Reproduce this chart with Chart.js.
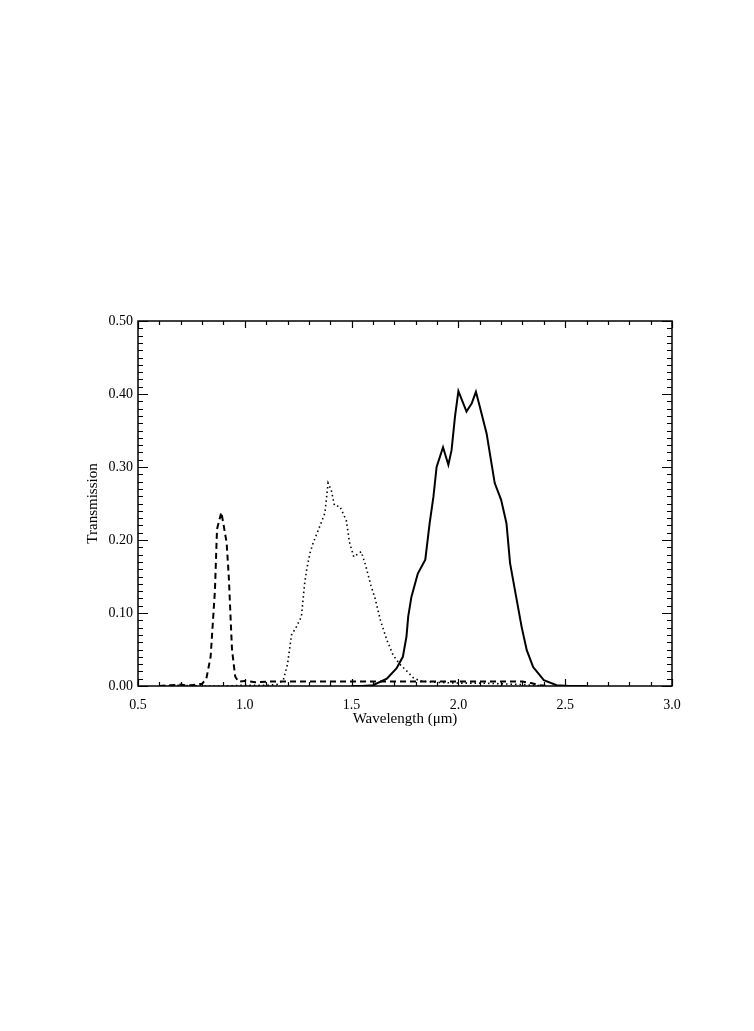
<!DOCTYPE html>
<html>
<head>
<meta charset="utf-8">
<script src="https://cdn.jsdelivr.net/npm/chart.js@4.4.0/dist/chart.umd.min.js"></script>
<style>
  html, body { margin: 0; padding: 0; background: #fff; }
  #wrap { width: 754px; height: 1031px; position: relative; }
</style>
</head>
<body>
<div id="wrap"><canvas id="filterChart"></canvas></div>
<script>
// Transmission curves
const dashedX = [0.60, 0.65, 0.70, 0.72, 0.75, 0.78, 0.80, 0.82, 0.84, 0.86, 0.87, 0.89, 0.90, 0.915, 0.925, 0.94, 0.955, 0.97, 1.00, 1.05, 1.10, 1.20, 1.30, 1.40, 1.50, 1.60, 1.70, 1.80, 1.90, 2.00, 2.10, 2.20, 2.30, 2.34, 2.38, 2.42];
const dashedY = [0.000, 0.001, 0.002, 0.001, 0.001, 0.002, 0.003, 0.010, 0.040, 0.130, 0.215, 0.238, 0.222, 0.196, 0.150, 0.050, 0.013, 0.006, 0.007, 0.005, 0.006, 0.006, 0.006, 0.006, 0.006, 0.006, 0.006, 0.006, 0.006, 0.006, 0.006, 0.006, 0.006, 0.004, 0.001, 0.000];

const dottedX = [0.60, 0.70, 0.80, 0.90, 1.00, 1.10, 1.15, 1.18, 1.20, 1.22, 1.235, 1.265, 1.28, 1.29, 1.305, 1.32, 1.35, 1.375, 1.39, 1.405, 1.42, 1.445, 1.475, 1.49, 1.51, 1.545, 1.565, 1.59, 1.61, 1.635, 1.665, 1.695, 1.725, 1.76, 1.79, 1.82, 1.90, 2.00, 2.10, 2.20, 2.30, 2.40];
const dottedY = [0.000, 0.001, 0.000, 0.000, 0.001, 0.001, 0.002, 0.008, 0.030, 0.072, 0.077, 0.095, 0.140, 0.160, 0.182, 0.196, 0.218, 0.237, 0.278, 0.268, 0.247, 0.246, 0.227, 0.197, 0.177, 0.184, 0.166, 0.138, 0.120, 0.090, 0.063, 0.042, 0.030, 0.020, 0.011, 0.007, 0.005, 0.004, 0.004, 0.003, 0.002, 0.000];

const solidX = [1.50, 1.55, 1.60, 1.665, 1.71, 1.74, 1.757, 1.765, 1.78, 1.81, 1.845, 1.865, 1.883, 1.898, 1.928, 1.953, 1.968, 1.984, 2.00, 2.038, 2.062, 2.082, 2.10, 2.132, 2.17, 2.20, 2.225, 2.242, 2.273, 2.296, 2.32, 2.35, 2.40, 2.46, 2.52, 2.60];
const solidY = [0.000, 0.000, 0.001, 0.010, 0.024, 0.040, 0.068, 0.095, 0.122, 0.154, 0.173, 0.222, 0.259, 0.300, 0.327, 0.303, 0.323, 0.369, 0.404, 0.376, 0.387, 0.403, 0.383, 0.346, 0.278, 0.255, 0.223, 0.168, 0.118, 0.081, 0.049, 0.026, 0.008, 0.001, 0.000, 0.000];

const xMajorLabels = ['0.5', '1.0', '1.5', '2.0', '2.5', '3.0'];
const yMajorLabels = ['0.00', '0.10', '0.20', '0.30', '0.40', '0.50'];

function toPoints(xs, ys) {
    return xs.map((x, i) => ({ x: x, y: ys[i] }));
}

const serif = '"Liberation Serif", "DejaVu Serif", serif';

// inward ticks on all four sides plus the top/right frame
const boxTicks = {
    id: 'boxTicks',
    afterDatasetsDraw(chart) {
        const { ctx, chartArea: a, scales } = chart;
        ctx.save();
        ctx.strokeStyle = '#000';
        ctx.lineWidth = 1.5;
        ctx.strokeRect(a.left, a.top, a.right - a.left, a.bottom - a.top);
        ctx.lineWidth = 1.2;
        scales.x.ticks.forEach(t => {
            const px = Math.round(scales.x.getPixelForValue(t.value)) + 0.5;
            const major = Math.round(t.value * 10) % 5 === 0;
            const len = major ? 7 : 4;
            ctx.beginPath();
            ctx.moveTo(px, a.bottom); ctx.lineTo(px, a.bottom - len);
            ctx.moveTo(px, a.top); ctx.lineTo(px, a.top + len);
            ctx.stroke();
        });
        scales.y.ticks.forEach(t => {
            const py = Math.round(scales.y.getPixelForValue(t.value)) + 0.5;
            const major = Math.round(t.value * 100) % 10 === 0;
            const len = major ? 10 : 5;
            ctx.beginPath();
            ctx.moveTo(a.left, py); ctx.lineTo(a.left + len, py);
            ctx.moveTo(a.right, py); ctx.lineTo(a.right - len, py);
            ctx.stroke();
        });
        ctx.restore();
    }
};

const ctx = document.getElementById('filterChart').getContext('2d');
const filterChart = new Chart(ctx, {
    type: 'line',
    data: {
        datasets: [
            {
                data: toPoints(dashedX, dashedY),
                borderColor: '#000',
                borderWidth: 2,
                borderDash: [6, 4],
                pointRadius: 0,
                tension: 0
            },
            {
                data: toPoints(dottedX, dottedY),
                borderColor: '#000',
                borderWidth: 1.6,
                borderDash: [1.5, 3],
                pointRadius: 0,
                tension: 0
            },
            {
                data: toPoints(solidX, solidY),
                borderColor: '#000',
                borderWidth: 2,
                pointRadius: 0,
                tension: 0
            }
        ]
    },
    options: {
        responsive: true,
        maintainAspectRatio: false,
        animation: false,
        layout: {
            padding: { left: 78, top: 321, right: 82, bottom: 300 }
        },
        plugins: {
            legend: { display: false },
            tooltip: { enabled: false }
        },
        scales: {
            x: {
                type: 'linear',
                min: 0.5,
                max: 3.0,
                afterFit: s => { s.height = 45; },
                grid: { display: false },
                border: { display: false },
                ticks: {
                    stepSize: 0.1,
                    autoSkip: false,
                    maxRotation: 0,
                    padding: 3,
                    color: '#000',
                    font: { family: serif, size: 14 },
                    callback: v => {
                        const k = Math.round(v * 10);
                        return k % 5 === 0 ? xMajorLabels[(k - 5) / 5] : '';
                    }
                },
                title: {
                    display: true,
                    text: 'Wavelength (μm)',
                    color: '#000',
                    font: { family: serif, size: 15 },
                    padding: { top: 0, bottom: 3 }
                }
            },
            y: {
                min: 0,
                max: 0.5,
                afterFit: s => { s.width = 60; },
                grid: { display: false },
                border: { display: false },
                ticks: {
                    stepSize: 0.01,
                    autoSkip: false,
                    padding: -3,
                    color: '#000',
                    font: { family: serif, size: 14 },
                    callback: v => {
                        const k = Math.round(v * 100);
                        return k % 10 === 0 ? yMajorLabels[k / 10] : '';
                    }
                },
                title: {
                    display: true,
                    text: 'Transmission',
                    color: '#000',
                    font: { family: serif, size: 15 },
                    padding: { top: 6, bottom: 0 }
                }
            }
        }
    },
    plugins: [boxTicks]
});
</script>
</body>
</html>
